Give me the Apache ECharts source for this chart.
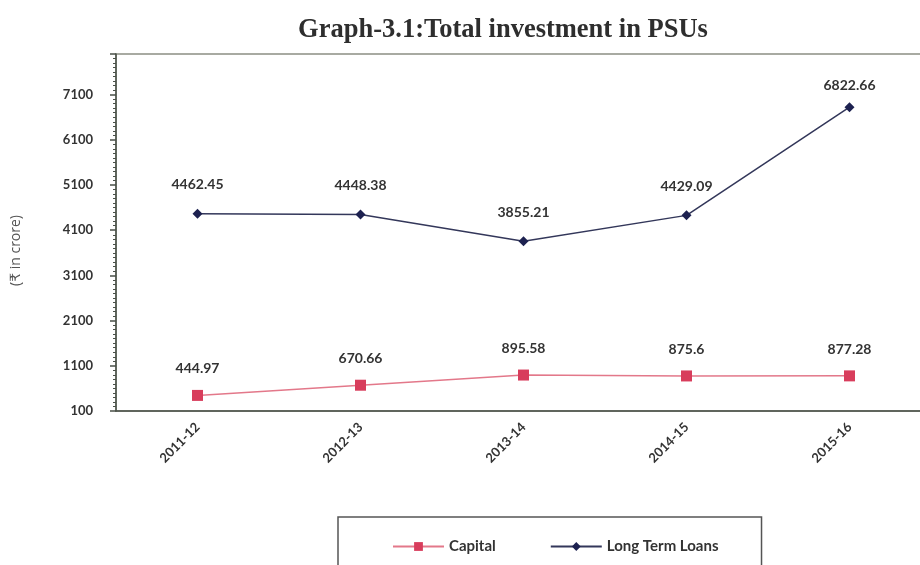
<!DOCTYPE html>
<html>
<head>
<meta charset="utf-8">
<script src="https://cdn.jsdelivr.net/npm/echarts@6/dist/echarts.min.js"></script>
<style>
  html, body { margin: 0; padding: 0; background: #fff; }
  #chart { width: 920px; height: 565px; }
</style>
</head>
<body>
<div id="chart"></div>
<script>
  const years = ['2011-12', '2012-13', '2013-14', '2014-15', '2015-16'];
  const capital = [444.97, 670.66, 895.58, 875.6, 877.28];
  const longTermLoans = [4462.45, 4448.38, 3855.21, 4429.09, 6822.66];

  const labelFont = 'Lato, "Open Sans", sans-serif';
  const axisColor = '#4a5048';

  // last loans label sits closer to its point in the original
  const loansData = longTermLoans.map((v, i) =>
    i === longTermLoans.length - 1 ? { value: v, label: { distance: 10 } } : v);

  const chart = echarts.init(document.getElementById('chart'));
  chart.setOption({
    animation: false,
    title: {
      text: 'Graph-3.1:Total investment in PSUs',
      left: 498,
      textAlign: 'center',
      top: 12,
      textStyle: {
        fontFamily: '"Liberation Serif", "DejaVu Serif", serif',
        fontWeight: 'bold',
        fontSize: 26.5,
        color: '#2e2e2e'
      }
    },
    grid: {
      left: 116,
      right: -11,
      top: 54,
      bottom: 154,
      outerBoundsMode: 'none',
      show: true,
      borderColor: '#8c8f84',
      borderWidth: 1.5
    },
    legend: {
      left: 338,
      top: 517,
      itemWidth: 51,
      itemHeight: 11,
      itemGap: 54,
      padding: [22, 43, 30, 54],
      borderColor: '#555',
      borderWidth: 1.5,
      textStyle: { fontFamily: labelFont, fontWeight: 'bold', fontSize: 15, color: '#333' },
      data: ['Capital', 'Long Term Loans']
    },
    xAxis: {
      type: 'category',
      data: years,
      boundaryGap: true,
      axisLine: { lineStyle: { color: axisColor, width: 1.5 } },
      axisTick: { length: 7, lineStyle: { color: axisColor, width: 1.5 } },
      axisLabel: {
        rotate: 45,
        margin: 14,
        fontFamily: labelFont,
        fontWeight: 'bold',
        fontSize: 13,
        color: '#333'
      }
    },
    yAxis: {
      type: 'value',
      min: 100,
      max: 8000,
      interval: 1000,
      name: '(₹ in crore)',
      nameLocation: 'middle',
      nameRotate: 90,
      nameGap: 93,
      nameTextStyle: {
        fontFamily: '"Open Sans", "DejaVu Sans", sans-serif',
        fontSize: 14,
        color: '#555',
        padding: [0, 36, 0, 0]
      },
      splitLine: { show: false },
      axisLine: { show: true, lineStyle: { color: axisColor, width: 1.5 } },
      axisTick: { show: true, length: 6, lineStyle: { color: axisColor, width: 1.5 } },
      minorTick: { show: true, splitNumber: 10, length: 3, lineStyle: { color: axisColor } },
      axisLabel: {
        margin: 23,
        showMaxLabel: false,
        formatter: v => String(v),
        fontFamily: labelFont,
        fontWeight: 'bold',
        fontSize: 13,
        color: '#333'
      }
    },
    series: [
      {
        name: 'Capital',
        type: 'line',
        data: capital,
        symbol: 'rect',
        symbolSize: 11,
        itemStyle: { color: '#d83d5c' },
        lineStyle: { color: '#e3788a', width: 1.5 },
        label: {
          show: true,
          position: 'top',
          distance: 14,
          fontFamily: labelFont,
          fontWeight: 'bold',
          fontSize: 14,
          color: '#333'
        }
      },
      {
        name: 'Long Term Loans',
        type: 'line',
        data: loansData,
        symbol: 'diamond',
        symbolSize: 10,
        itemStyle: { color: '#1d2150' },
        lineStyle: { color: '#33375a', width: 1.5 },
        label: {
          show: true,
          position: 'top',
          distance: 17,
          fontFamily: labelFont,
          fontWeight: 'bold',
          fontSize: 14,
          color: '#333'
        }
      }
    ]
  });
</script>
</body>
</html>
